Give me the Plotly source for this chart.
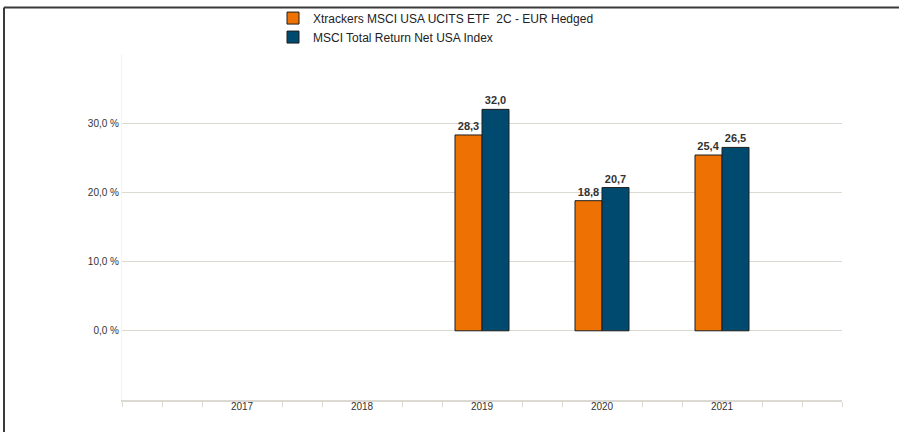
import plotly.graph_objects as go

years = ["2017", "2018", "2019", "2020", "2021"]
fund_name = "Xtrackers MSCI USA UCITS ETF\u00a0 2C - EUR Hedged"
index_name = "MSCI Total Return Net USA Index"
fund_values = [None, None, 28.3, 18.8, 25.4]
index_values = [None, None, 32.0, 20.7, 26.5]
y_ticks = [0, 10, 20, 30]
y_tick_labels = [f"{v:.1f}".replace(".", ",") + " %" for v in y_ticks]

ORANGE = "#EE7203"
BLUE = "#004A6F"
GRID = "#DCD9D2"
TEXT = "#333333"
FONT = "Liberation Sans, Arial, sans-serif"

xpos = list(range(len(years)))
n = len(years)
minor_ticks = sorted(set(round(i + f, 6) for i in range(-1, n + 1) for f in (0, 1/3, 2/3)
                         if -1 <= i + f <= n and (f != 0 or i in (-1, n))))

fig = go.Figure()
for name, vals, col in [(fund_name, fund_values, ORANGE), (index_name, index_values, BLUE)]:
    fig.add_trace(go.Bar(
        x=xpos, y=vals, name=name,
        marker=dict(color=col, line=dict(color="#1E1E1E", width=1)),
        texttemplate="%{y:.1f}", textposition="outside", cliponaxis=False,
        textfont=dict(family=FONT, size=11, color=TEXT, weight="bold"),
    ))

PL, PR, PT, PB = 122, 842, 53.5, 400
W, H = 899, 432

def px(xp):
    return (xp - PL) / (PR - PL)

def py(yp):
    return (PB - yp) / (PB - PT)

fig.update_layout(
    width=W, height=H,
    margin=dict(l=PL, r=W - PR, t=PT, b=H - PB, pad=0, autoexpand=False),
    paper_bgcolor="white", plot_bgcolor="white",
    separators=", ",
    barmode="group", bargap=0.55, bargroupgap=0,
    font=dict(family=FONT, size=10, color=TEXT),
    showlegend=True,
    legend=dict(
        orientation="v", x=px(273), xanchor="left", y=py(3), yanchor="top",
        font=dict(family=FONT, size=12, color="#222222"),
        bgcolor="rgba(0,0,0,0)", tracegroupgap=0,
    ),
    xaxis=dict(
        type="linear", range=[-1, n],
        tickvals=xpos, ticktext=years, ticks="",
        showgrid=False, zeroline=False,
        showline=True, linecolor=GRID, linewidth=2,
        tickfont=dict(family=FONT, size=10, color=TEXT),
        ticklabelstandoff=-4,
        minor=dict(tickvals=minor_ticks, ticks="outside", ticklen=5,
                   tickcolor=GRID, tickwidth=1, showgrid=False),
    ),
    yaxis=dict(
        range=[-10, 40], tickvals=y_ticks, ticktext=y_tick_labels,
        showgrid=True, gridcolor=GRID, gridwidth=1,
        zeroline=False, showline=True, linecolor="#F3F3F3", linewidth=1,
        ticks="", ticklabelstandoff=0,
        tickfont=dict(family=FONT, size=10, color=TEXT),
    ),
    shapes=[
        dict(type="line", xref="paper", yref="paper", x0=px(4), x1=px(W + 5),
             y0=py(7), y1=py(7), line=dict(color="#3A3A3A", width=2)),
        dict(type="line", xref="paper", yref="paper", x0=px(4), x1=px(4),
             y0=py(7), y1=py(H + 5), line=dict(color="#3A3A3A", width=2)),
    ],
)

fig.write_html("out.html", config={"displayModeBar": False},
               post_script="document.body.style.margin='0';document.body.style.overflow='hidden';")
